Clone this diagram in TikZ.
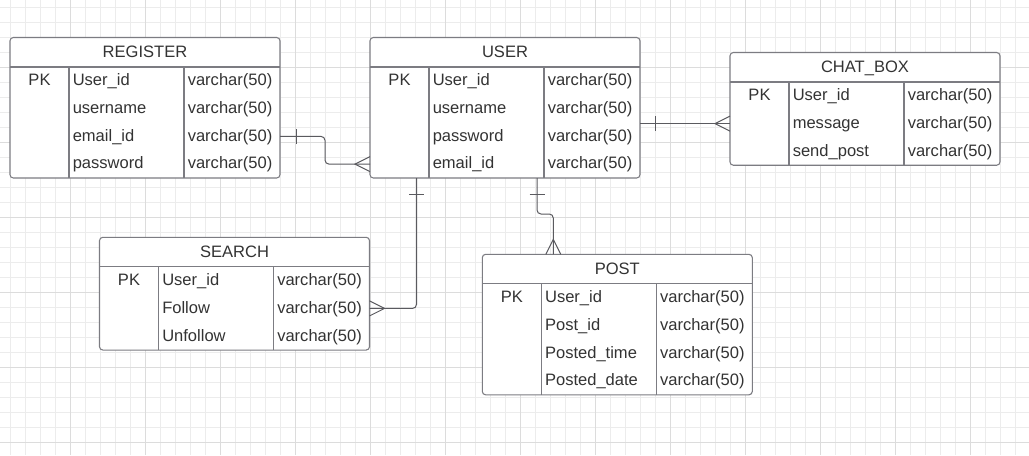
\documentclass[tikz,border=0pt]{standalone}
\usepackage{fontspec}
\setmainfont{Liberation Sans}
\usetikzlibrary{calc}
\definecolor{gridminor}{HTML}{ECECEC}
\definecolor{gridmajor}{HTML}{DCDCDC}
\definecolor{tblborder}{HTML}{7C7C82}
\definecolor{txtcol}{HTML}{333333}
\definecolor{conncol}{HTML}{5A5A5F}
\tikzset{
  minorgrid/.style={draw=gridminor, line width=0.75pt},
  majorgrid/.style={draw=gridmajor, line width=0.75pt},
  tbl/.style={draw=tblborder, fill=white, line width=0.8pt, rounded corners=2.5pt,
              minimum width=202.5pt, inner sep=0pt, outer sep=0pt},
  tblline/.style={draw=tblborder, line width=0.8pt},
  ttl/.style={text=txtcol, inner sep=0pt, anchor=base, font=\fontsize{12.4}{14}\selectfont},
  txt/.style={text=txtcol, inner sep=0pt, font=\fontsize{12.4}{14}\selectfont},
  conn/.style={draw=conncol, line width=0.75pt, rounded corners=3pt},
  mk/.style={draw=conncol, line width=0.75pt},
}
\newcommand{\ERtable}[6]{%
  \node[tbl, anchor=north west, minimum height={(29.5+27.75*#5)*0.75pt}] (#1) at (#2,#3) {};
  \node[ttl] (#1-title) at (#2+135,#3+19.8) {#4};
  \draw[tblline] (#2,#3+29.5) -- (#2+270,#3+29.5);
  \draw[tblline] (#2+59,#3+29.5) -- (#2+59,#3+29.5+27.75*#5);
  \draw[tblline] (#2+174,#3+29.5) -- (#2+174,#3+29.5+27.75*#5);
  \node[txt, anchor=base] (#1-pk) at (#2+29.5,#3+29.5+18.7) {PK};
  \foreach \f/\t [count=\i] in {#6} {
    \coordinate (#1-r\i) at (#2,#3+29.5+27.75*\i-13.875);
    \node[txt, anchor=base west] (#1-f\i) at (#2+62.5,#3+29.5+27.75*\i-9.05) {\f};
    \node[txt, anchor=base west] (#1-t\i) at (#2+177.5,#3+29.5+27.75*\i-9.05) {\t};
  }
}
\begin{document}
\begin{tikzpicture}[x=0.75pt,y=-0.75pt]
\useasboundingbox (0,0) rectangle (1029,455);
\fill[white] (0,0) rectangle (1029,455);
% grid
\foreach \gx in {10,25,...,1025} \draw[minorgrid] (\gx,0) -- (\gx,455);
\foreach \gy in {7,22,...,452} \draw[minorgrid] (0,\gy) -- (1029,\gy);
\foreach \gx in {70,145,...,970} \draw[majorgrid] (\gx,0) -- (\gx,455);
\foreach \gy in {67,142,...,442} \draw[majorgrid] (0,\gy) -- (1029,\gy);

% tables
\ERtable{register}{10}{37.5}{REGISTER}{4}{User\_id/varchar(50), username/varchar(50), email\_id/varchar(50), password/varchar(50)}
\ERtable{user}{370}{37.5}{USER}{4}{User\_id/varchar(50), username/varchar(50), password/varchar(50), email\_id/varchar(50)}
\ERtable{chatbox}{730}{52.5}{CHAT\_BOX}{3}{User\_id/varchar(50), message/varchar(50), send\_post/varchar(50)}
\ERtable{search}{99.5}{237.3}{SEARCH}{3}{User\_id/varchar(50), Follow/varchar(50), Unfollow/varchar(50)}
\ERtable{post}{482.3}{254.3}{POST}{4}{User\_id/varchar(50), Post\_id/varchar(50), Posted\_time/varchar(50), Posted\_date/varchar(50)}

% REGISTER -- USER
\draw[conn] (register-r3 -| register.east) -- ++(45,0) |- (user-r4);
\draw[mk] (register-r3 -| register.east) ++(16,-7.5) -- ++(0,15);
\draw[mk] (user-r4) ++(0,-7.5) -- ++(-15,7.5) -- ++(15,7.5);

% USER -- SEARCH
\draw[conn] ($(user.south west)+(46.5,0)$) |- (search-r2 -| search.east);
\draw[mk] ($(user.south west)+(46.5,0)$) ++(-7.5,16) -- ++(15,0);
\draw[mk] (search-r2 -| search.east) ++(0,-7.5) -- ++(15,7.5) -- ++(-15,7.5);

% USER -- POST
\draw[conn] ($(user.south west)+(167,0)$) -- ++(0,36) -| ($(post.north west)+(71,0)$);
\draw[mk] ($(user.south west)+(167,0)$) ++(-7.5,16) -- ++(15,0);
\draw[mk] ($(post.north west)+(71,0)$) ++(-7.5,0) -- ++(7.5,-15) -- ++(7.5,15);

% USER -- CHAT_BOX
\draw[conn] (chatbox-r2 -| user.east) -- (chatbox-r2);
\draw[mk] (chatbox-r2 -| user.east) ++(15,-7.5) -- ++(0,15);
\draw[mk] (chatbox-r2) ++(0,-7.5) -- ++(-15,7.5) -- ++(15,7.5);
\end{tikzpicture}
\end{document}
